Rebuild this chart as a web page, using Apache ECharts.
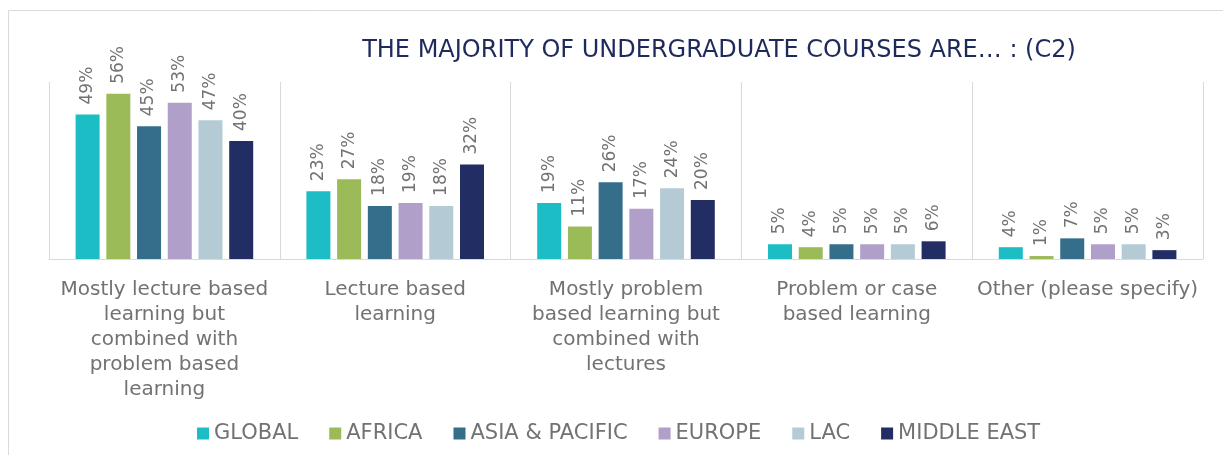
<!DOCTYPE html>
<html>
<head>
<meta charset="utf-8">
<script src="https://cdn.jsdelivr.net/npm/echarts@6/dist/echarts.min.js"></script>
<style>
  html, body { margin: 0; padding: 0; background: #ffffff; }
  #chart { width: 1223px; height: 455px; }
</style>
</head>
<body>
<div id="chart"></div>
<script>
// Course format categories (line breaks as shown under the axis)
const categories = [
  'Mostly lecture based\nlearning but\ncombined with\nproblem based\nlearning',
  'Lecture based\nlearning',
  'Mostly problem\nbased learning but\ncombined with\nlectures',
  'Problem or case\nbased learning',
  'Other (please specify)'
];

// Share of respondents per region, in percent
const regions = ['GLOBAL', 'AFRICA', 'ASIA & PACIFIC', 'EUROPE', 'LAC', 'MIDDLE EAST'];
const globalVals      = [49, 23, 19, 5, 4];
const africaVals      = [56, 27, 11, 4, 1];
const asiaPacificVals = [45, 18, 26, 5, 7];
const europeVals      = [53, 19, 17, 5, 5];
const lacVals         = [47, 18, 24, 5, 5];
const middleEastVals  = [40, 32, 20, 6, 3];

const regionValues = [globalVals, africaVals, asiaPacificVals, europeVals, lacVals, middleEastVals];
const regionColors = ['#1DBDC6', '#9BBB59', '#346E8A', '#B09FC8', '#B4CBD6', '#222D63'];

const chart = echarts.init(document.getElementById('chart'));

const series = regions.map((name, i) => ({
  name: name,
  type: 'bar',
  data: regionValues[i],
  barWidth: 24,
  barGap: '28%',
  itemStyle: { color: regionColors[i] },
  label: {
    show: true,
    position: 'top',
    rotate: 90,
    align: 'left',
    verticalAlign: 'middle',
    distance: 10,
    formatter: '{c}%',
    fontFamily: 'DejaVu Sans',
    fontSize: 17,
    color: '#727272'
  }
}));

chart.setOption({
  backgroundColor: '#ffffff',
  animation: false,
  title: {
    text: 'THE MAJORITY OF UNDERGRADUATE COURSES ARE… : (C2)',
    left: 714,
    textAlign: 'center',
    top: 34,
    textStyle: {
      fontFamily: 'DejaVu Sans',
      fontSize: 24,
      fontWeight: 'normal',
      color: '#1F2A5C'
    }
  },
  legend: {
    data: regions,
    left: 197,
    top: 423,
    padding: 0,
    icon: 'rect',
    itemWidth: 12,
    itemHeight: 12,
    itemGap: 31,
    textStyle: {
      fontFamily: 'DejaVu Sans',
      fontSize: 21,
      color: '#727272'
    }
  },
  grid: {
    left: 49,
    right: 20,
    top: 82,
    bottom: 196,
    containLabel: false
  },
  xAxis: {
    type: 'category',
    data: categories,
    axisLine: { lineStyle: { color: '#D9D9D9', width: 1 } },
    axisTick: { show: false },
    splitLine: { show: true, lineStyle: { color: '#D9D9D9', width: 1 } },
    axisLabel: {
      interval: 0,
      margin: 18,
      fontFamily: 'DejaVu Sans',
      fontSize: 20,
      lineHeight: 25,
      color: '#727272'
    }
  },
  yAxis: {
    type: 'value',
    min: 0,
    max: 60,
    show: false,
    splitLine: { show: false }
  },
  graphic: [{
    type: 'rect',
    shape: { x: 8.5, y: 10.5, width: 1240, height: 470 },
    style: { fill: 'none', stroke: '#DADADA', lineWidth: 1 },
    silent: true,
    z: -1
  }],
  series: series
});
</script>
</body>
</html>
